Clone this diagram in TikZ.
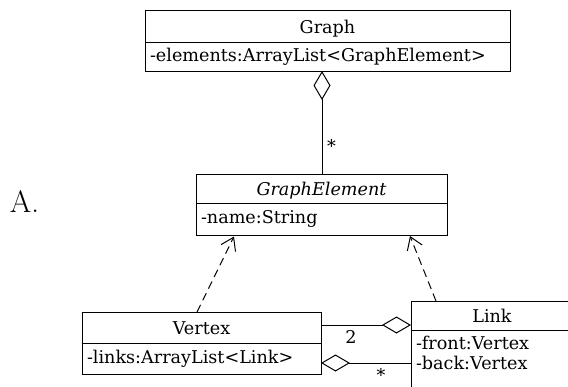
\documentclass[tikz,border=0pt]{standalone}
\usepackage{fontspec}
\setmainfont{DejaVu Serif}
\newfontfamily\lmfont{Latin Modern Roman}
\usetikzlibrary{arrows.meta,calc}
\tikzset{
  umlpart/.style={draw=black, line width=1pt, inner sep=0pt, outer sep=0pt, font=\fontsize{17.6}{20}\selectfont},
  hdr/.style={umlpart, align=center, text height=14.5pt, text depth=0pt},
  attrs/.style={umlpart, align=left, inner xsep=5pt, inner ysep=0pt},
  lbl/.style={font=\fontsize{17.6}{20}\selectfont, inner sep=0pt},
  conn/.style={line width=1pt},
  aggr/.style={conn, {Diamond[open,length=29pt,width=17pt,line width=1pt]}-},
  realize/.style={conn, dash pattern=on 8pt off 5pt, -{Straight Barb[length=12pt,width=16pt,line width=1pt]}}
}
\begin{document}
\begin{tikzpicture}[x=1pt,y=-1pt]
\useasboundingbox (0,0) rectangle (568,386);
\clip (0,0) rectangle (568,386);
% Graph
\node[hdr, minimum width=365pt, minimum height=32pt, anchor=north west] (graphH) at (145,10) {Graph};
\node[attrs, minimum width=365pt, minimum height=29pt, text width=355pt, anchor=north] (graphA) at (graphH.south) {-elements:ArrayList<GraphElement>};
% GraphElement
\node[hdr, minimum width=251pt, minimum height=29pt, anchor=north west] (geH) at (196,174) {\itshape GraphElement};
\node[attrs, minimum width=251pt, minimum height=32pt, text width=241pt, anchor=north] (geA) at (geH.south) {-name:String};
% Vertex
\node[hdr, minimum width=239pt, minimum height=31pt, anchor=north west] (vxH) at (82,312) {Vertex};
\node[attrs, minimum width=239pt, minimum height=31pt, text width=229pt, anchor=north] (vxA) at (vxH.south) {-links:ArrayList<Link>};
% Link
\node[hdr, minimum width=162pt, minimum height=29pt, anchor=north west] (lkH) at (411,301) {Link};
\node[attrs, minimum width=162pt, text width=152pt, inner ysep=6.5pt, anchor=north, text depth=60pt] (lkA) at (lkH.south) {-front:Vertex\\-back:Vertex};
% label A.
\node[inner sep=0pt, font=\lmfont\fontsize{31}{36}\selectfont] (lblA) at (24.5,202) {A.};
% Graph -- GraphElement aggregation
\coordinate (geTop) at ($(geH.north west)+(126,0)$);
\draw[aggr] (geTop |- graphA.south) -- (geTop);
\node[lbl, anchor=west] (starTop) at (327,146) {*};
% realizations
\coordinate (vxTop) at ($(vxH.north west)+(115,0)$);
\coordinate (geBL) at ($(geA.south west)+(38,1.5)$);
\draw[realize] (vxTop) -- (geBL);
\coordinate (lkTop) at ($(lkH.north west)+(25,0)$);
\coordinate (geBR) at ($(geA.south east)+(-37,1)$);
\draw[realize] (lkTop) -- (geBR);
% Vertex -- Link
\coordinate (vx2) at ($(vxH.north east)+(0,13)$);
\draw[aggr] (vx2 -| lkH.west) -- (vx2);
\node[lbl] (two) at (351,337) {2};
\coordinate (vx3) at ($(vxA.north east)+(0,20)$);
\draw[aggr] (vx3) -- (vx3 -| lkA.west);
\node[lbl] (starLink) at (381,375) {*};
\end{tikzpicture}
\end{document}
